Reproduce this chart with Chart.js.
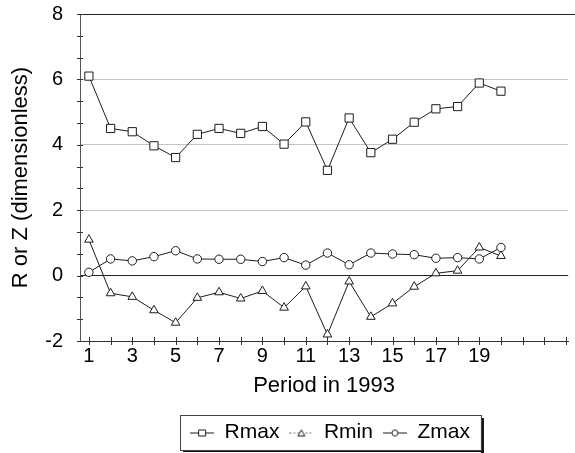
<!DOCTYPE html>
<html>
<head>
<meta charset="utf-8">
<script src="https://cdn.jsdelivr.net/npm/chart.js@4/dist/chart.umd.min.js"></script>
<style>
  html, body { margin: 0; padding: 0; background: #fff; }
  #wrap { width: 575px; height: 453px; position: relative; }
</style>
</head>
<body>
<div id="wrap"><canvas id="c" width="575" height="453"></canvas></div>
<script>
// Sampling periods and the three indices per period
const periods = [1, 2, 3, 4, 5, 6, 7, 8, 9, 10, 11, 12, 13, 14, 15, 16, 17, 18, 19, 20];
const rmax = [6.1, 4.5, 4.4, 3.97, 3.61, 4.32, 4.5, 4.35, 4.56, 4.02, 4.7, 3.22, 4.82, 3.76, 4.17, 4.69, 5.1, 5.17, 5.89, 5.64];
const rmin = [1.1, -0.54, -0.65, -1.06, -1.44, -0.68, -0.51, -0.7, -0.47, -0.98, -0.33, -1.8, -0.18, -1.26, -0.85, -0.34, 0.07, 0.15, 0.86, 0.6];
const zmax = [0.1, 0.51, 0.45, 0.58, 0.76, 0.51, 0.5, 0.5, 0.43, 0.55, 0.32, 0.69, 0.33, 0.69, 0.66, 0.64, 0.53, 0.55, 0.51, 0.86];

// Axis ticks
const xTickValues = [1, 2, 3, 4, 5, 6, 7, 8, 9, 10, 11, 12, 13, 14, 15, 16, 17, 18, 19, 20, 21, 22, 23];
const xTickLabels = ['1', '3', '5', '7', '9', '11', '13', '15', '17', '19'];
const yLabelValues = [-2, 0, 2, 4, 6, 8];
const yMinorStep = 2 / 3;

const FONT = '"Liberation Sans", Arial, sans-serif';
const INK = '#1c1c1c';

function pts(ys) { return periods.map((p, i) => ({ x: p, y: ys[i] })); }

// Small legend glyphs: a short line with the series marker in the middle
function glyph(kind) {
  const c = document.createElement('canvas');
  c.width = 24; c.height = 12;
  const g = c.getContext('2d');
  g.strokeStyle = INK; g.lineWidth = 1;
  g.beginPath();
  if (kind === 'tri') { g.setLineDash([2, 2]); g.strokeStyle = '#777'; }
  g.moveTo(0, 6.5); g.lineTo(24, 6.5); g.stroke();
  g.setLineDash([]); g.strokeStyle = INK; g.fillStyle = '#fff';
  g.beginPath();
  if (kind === 'rect') { g.rect(8.5, 3.5, 7, 6); }
  else if (kind === 'tri') { g.moveTo(12, 3.5); g.lineTo(15.5, 9.5); g.lineTo(8.5, 9.5); g.closePath(); }
  else { g.arc(12, 6.5, 3, 0, Math.PI * 2); }
  g.fill(); g.stroke();
  return c;
}
const legendGlyphs = [glyph('rect'), glyph('tri'), glyph('circ')];

// Frame top line, tick marks that cross the axis lines, and the framed legend
const axisDecor = {
  id: 'axisDecor',
  afterLayout(chart) {
    const lg = chart.legend;
    lg.left = 88; lg.right = 572; lg.width = lg.right - lg.left;
  },
  afterDatasetsDraw(chart) {
    const ctx = chart.ctx;
    const xs = chart.scales.x, ys = chart.scales.y;
    const area = chart.chartArea;
    ctx.save();
    ctx.strokeStyle = '#222';
    ctx.lineWidth = 1;
    ctx.beginPath();
    const topY = Math.round(ys.getPixelForValue(8)) + 0.5;
    ctx.moveTo(area.left, topY); ctx.lineTo(chart.width, topY);
    ctx.stroke();

    ctx.strokeStyle = '#333';
    ctx.beginPath();
    xs.ticks.forEach(t => {
      const px = Math.round(xs.getPixelForValue(t.value)) + 0.5;
      ctx.moveTo(px, area.bottom - 4); ctx.lineTo(px, area.bottom + 4);
    });
    ys.ticks.forEach(t => {
      const py = Math.round(ys.getPixelForValue(t.value)) + 0.5;
      ctx.moveTo(area.left - 3, py); ctx.lineTo(area.left + 3, py);
    });
    ctx.stroke();

    const hb = chart.legend.legendHitBoxes;
    if (hb && hb.length) {
      const l = Math.min(...hb.map(b => b.left)) - 10;
      const r = Math.max(...hb.map(b => b.left + b.width)) + 11;
      const t = Math.min(...hb.map(b => b.top)) - 7;
      const b = Math.max(...hb.map(b => b.top + b.height)) + 7;
      ctx.fillStyle = '#111';
      ctx.fillRect(r, t + 3, 3, b - t);
      ctx.fillRect(l + 3, b, r - l, 2);
      ctx.strokeStyle = '#444';
      ctx.strokeRect(Math.round(l) + 0.5, Math.round(t) + 0.5, Math.round(r - l), Math.round(b - t));
    }
    ctx.restore();
  }
};

const seriesStyle = (label, data, style, radius) => ({
  label, data,
  borderColor: INK, borderWidth: 1, tension: 0,
  pointStyle: style, pointRadius: radius, pointHoverRadius: radius,
  pointBackgroundColor: '#fff', pointBorderColor: INK, pointBorderWidth: 1,
  fill: false
});

new Chart(document.getElementById('c'), {
  type: 'line',
  data: {
    datasets: [
      seriesStyle('Rmax', pts(rmax), 'rect', 5.8),
      seriesStyle('Rmin', pts(rmin), 'triangle', 5),
      seriesStyle('Zmax', pts(zmax), 'circle', 4.2)
    ]
  },
  options: {
    responsive: false,
    animation: false,
    devicePixelRatio: 1,
    layout: { padding: { top: 14, right: 3, left: 0, bottom: 0 } },
    plugins: {
      tooltip: { enabled: false },
      legend: {
        position: 'bottom',
        labels: {
          usePointStyle: true,
          pointStyleWidth: 24,
          padding: 10,
          color: '#000',
          font: { family: FONT, size: 21 },
          generateLabels: (chart) => chart.data.datasets.map((ds, i) => ({
            text: ds.label, datasetIndex: i, hidden: false,
            pointStyle: legendGlyphs[i], fillStyle: '#fff', strokeStyle: INK,
            lineWidth: 0, fontColor: '#000'
          }))
        }
      }
    },
    scales: {
      x: {
        type: 'linear',
        min: 0.59, max: 23.1,
        afterBuildTicks: (s) => { s.ticks = xTickValues.map(v => ({ value: v })); },
        afterFit: (s) => { s.height = 71; s.paddingLeft = 0; s.paddingRight = 0; },
        ticks: {
          autoSkip: false, maxRotation: 0, padding: 3,
          color: '#000', font: { family: FONT, size: 20 },
          callback: (v) => (xTickLabels.includes(String(v)) ? String(v) : '')
        },
        grid: { display: true, drawOnChartArea: false, drawTicks: false },
        border: { display: true, color: '#333', width: 1 },
        title: {
          display: true, text: 'Period in 1993', color: '#000',
          font: { family: FONT, size: 22 }, padding: { top: 0, bottom: 13 }
        }
      },
      y: {
        min: -2, max: 8,
        afterBuildTicks: (s) => {
          const t = [];
          for (let k = 0; k <= 15; k++) t.push({ value: Math.round((-2 + k * yMinorStep) * 1e6) / 1e6 });
          s.ticks = t;
        },
        afterFit: (s) => { s.width = 80; s.paddingTop = 0; s.paddingBottom = 0; },
        ticks: {
          autoSkip: false, padding: 17,
          color: '#000', font: { family: FONT, size: 20 },
          callback: (v) => {
            const r = Math.round(v);
            return (Math.abs(v - r) < 1e-6 && yLabelValues.includes(r)) ? String(r) : '';
          }
        },
        grid: {
          drawTicks: false,
          color: (c) => {
            const v = c.tick ? c.tick.value : NaN;
            const r = Math.round(v);
            if (Math.abs(v - r) > 1e-6) return 'rgba(0,0,0,0)';
            if (r === 0) return '#222';
            if (r === 2 || r === 4 || r === 6) return '#c4c4c4';
            return 'rgba(0,0,0,0)';
          },
          lineWidth: 1
        },
        border: { display: true, color: '#555', width: 1 },
        title: {
          display: true, text: 'R or Z (dimensionless)', color: '#000',
          font: { family: FONT, size: 22 }, padding: { top: 8, bottom: 0 }
        }
      }
    }
  },
  plugins: [axisDecor]
});
</script>
</body>
</html>
